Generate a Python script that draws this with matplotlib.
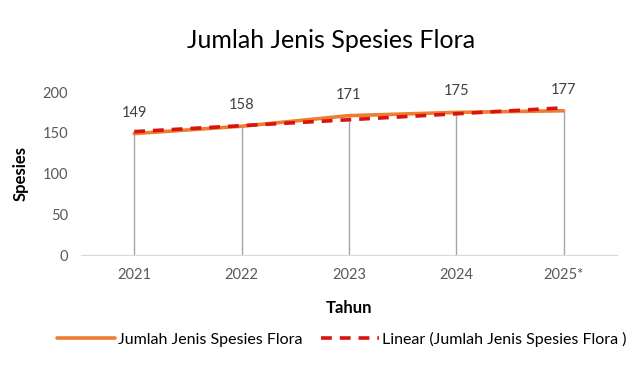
import numpy as np
import matplotlib.pyplot as plt

plt.rcParams['font.family'] = ['Lato', 'DejaVu Sans']

# data
years = ['2021', '2022', '2023', '2024', '2025*']
species = [149, 158, 171, 175, 177]


def plot_chart():
    fig = plt.figure(figsize=(6.39, 3.74), dpi=100)
    ax = fig.add_axes([0.126, 0.318, 0.84, 0.436])

    x = np.arange(len(years))

    # drop lines from each point to the axis
    ax.vlines(x, 0, species, color='#a6a6a6', lw=1, zorder=1)

    ax.plot(x, species, color='#ED7D31', lw=2.6, solid_capstyle='round',
            label='Jumlah Jenis Spesies Flora', zorder=2)

    # linear trendline like Excel
    slope, icpt = np.polyfit(x, species, 1)
    ax.plot(x, slope * x + icpt, color='#D9140E', lw=2.6, ls=(0, (3, 2.2)),
            label='Linear (Jumlah Jenis Spesies Flora )', zorder=3)

    for xi, v in zip(x, species):
        ax.annotate(str(v), (xi, v), xytext=(0, 10), textcoords='offset points',
                    ha='center', va='bottom', fontsize=10.5, color='#404040',
                    annotation_clip=False)

    ax.set_xlim(-0.5, len(years) - 0.5)
    ax.set_ylim(0, 200)
    ax.set_yticks([0, 50, 100, 150, 200])
    ax.set_xticks(x)
    ax.set_xticklabels(years)
    ax.tick_params(length=0, labelsize=10.5, labelcolor='#595959', pad=9)

    for s in ['top', 'right', 'left']:
        ax.spines[s].set_visible(False)
    ax.spines['bottom'].set_color('#d9d9d9')

    ax.set_ylabel('Spesies', fontsize=12, fontweight='bold', labelpad=10)
    ax.set_xlabel('Tahun', fontsize=12, fontweight='bold', labelpad=13)

    fig.text(0.518, 0.893, 'Jumlah Jenis Spesies Flora', ha='center', va='center',
             fontsize=18)

    fig.legend(loc='center', bbox_to_anchor=(0.535, 0.093), ncol=2, frameon=False,
               fontsize=11.5, handlelength=3.6, handletextpad=0.2, columnspacing=1.2)

    fig.savefig('out.png', dpi=100)


if __name__ == "__main__":
    plot_chart()
